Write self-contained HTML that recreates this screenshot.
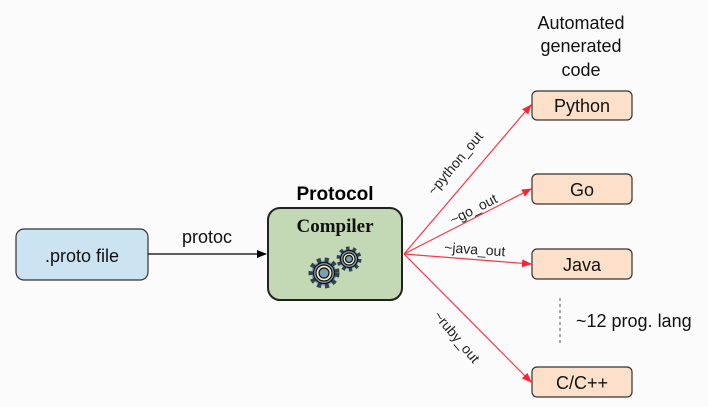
<!DOCTYPE html>
<html><head><meta charset="utf-8"><style>
html,body{margin:0;padding:0;background:#fff;}
svg{display:block;font-family:"Liberation Sans",sans-serif;}
</style></head><body>
<svg width="708" height="407" viewBox="0 0 708 407" xmlns="http://www.w3.org/2000/svg">
<defs>
<marker id="ar" markerWidth="10" markerHeight="8" refX="9" refY="4" orient="auto" markerUnits="userSpaceOnUse"><path d="M0,0 L10,4 L0,8 Z" fill="#ff2233"/></marker>
<marker id="ab" markerWidth="10" markerHeight="8" refX="9" refY="4" orient="auto" markerUnits="userSpaceOnUse"><path d="M0,0 L10,4 L0,8 Z" fill="#000"/></marker>
</defs>
<rect width="708" height="407" fill="#fbfbfb"/>
<rect x="16" y="229" width="132" height="51" rx="8" fill="#cce3f1" stroke="#333" stroke-width="1.2"/>
<text x="82" y="262" font-size="18" text-anchor="middle" fill="#111">.proto file</text>
<line x1="148" y1="254" x2="266" y2="254" stroke="#000" stroke-width="1.2" marker-end="url(#ab)"/>
<text x="207" y="243" font-size="18" text-anchor="middle" fill="#111">protoc</text>
<text x="335" y="200" font-size="19" font-weight="bold" text-anchor="middle" fill="#000">Protocol</text>
<rect x="268" y="208" width="134" height="92" rx="12" fill="#c3d8b4" stroke="#222" stroke-width="2"/>
<text x="335" y="232" font-size="19" font-weight="bold" text-anchor="middle" font-family="Liberation Serif,serif" fill="#111">Compiler</text>
<g stroke="#111" stroke-width="1.2">
<circle cx="349" cy="259" r="10" fill="#7d9fb4" stroke="#33424c" stroke-width="5" stroke-dasharray="3.2 3.1"/>
<circle cx="349" cy="259" r="8.5" fill="#7d9fb4"/>
<circle cx="349" cy="259" r="6" fill="#f2edc8"/>
<circle cx="349" cy="259" r="3.5" fill="#7d9fb4"/>
<circle cx="324" cy="273" r="12.5" fill="#7d9fb4" stroke="#33424c" stroke-width="6" stroke-dasharray="3.8 3.6"/>
<circle cx="324" cy="273" r="10.5" fill="#7d9fb4"/>
<circle cx="324" cy="273" r="8" fill="#f2edc8"/>
<circle cx="324" cy="273" r="5" fill="#7d9fb4"/>
</g>
<g stroke="#ff3344" stroke-width="1.2" fill="none">
<line x1="404" y1="254" x2="531" y2="105" marker-end="url(#ar)"/>
<line x1="404" y1="254" x2="531" y2="189" marker-end="url(#ar)"/>
<line x1="404" y1="254" x2="531" y2="264" marker-end="url(#ar)"/>
<line x1="404" y1="254" x2="531" y2="382" marker-end="url(#ar)"/>
</g>
<g font-size="14" fill="#222">
<text transform="translate(434,196) rotate(-50)">~python_out</text>
<text transform="translate(453,225) rotate(-27)">~go_out</text>
<text x="444" y="252" transform="rotate(4 444 252)">~java_out</text>
<text transform="translate(433,316) rotate(50)">~ruby_out</text>
</g>
<text x="581" y="29" font-size="18" text-anchor="middle" fill="#111">Automated</text>
<text x="581" y="52" font-size="18" text-anchor="middle" fill="#111">generated</text>
<text x="581" y="76" font-size="18" text-anchor="middle" fill="#111">code</text>
<g fill="#fde0c9" stroke="#333" stroke-width="1.2">
<rect x="532" y="91" width="100" height="29" rx="5"/>
<rect x="532" y="174" width="100" height="30" rx="5"/>
<rect x="532" y="249" width="100" height="30" rx="5"/>
<rect x="532" y="367" width="100" height="30" rx="5"/>
</g>
<g font-size="18" text-anchor="middle" fill="#111">
<text x="582" y="112">Python</text>
<text x="582" y="196">Go</text>
<text x="582" y="271">Java</text>
<text x="582" y="389">C/C++</text>
</g>
<line x1="560" y1="298" x2="560" y2="343" stroke="#555" stroke-width="1" stroke-dasharray="3 3"/>
<text x="576" y="327" font-size="18" fill="#111">~12 prog. lang</text>
</svg>
</body></html>
